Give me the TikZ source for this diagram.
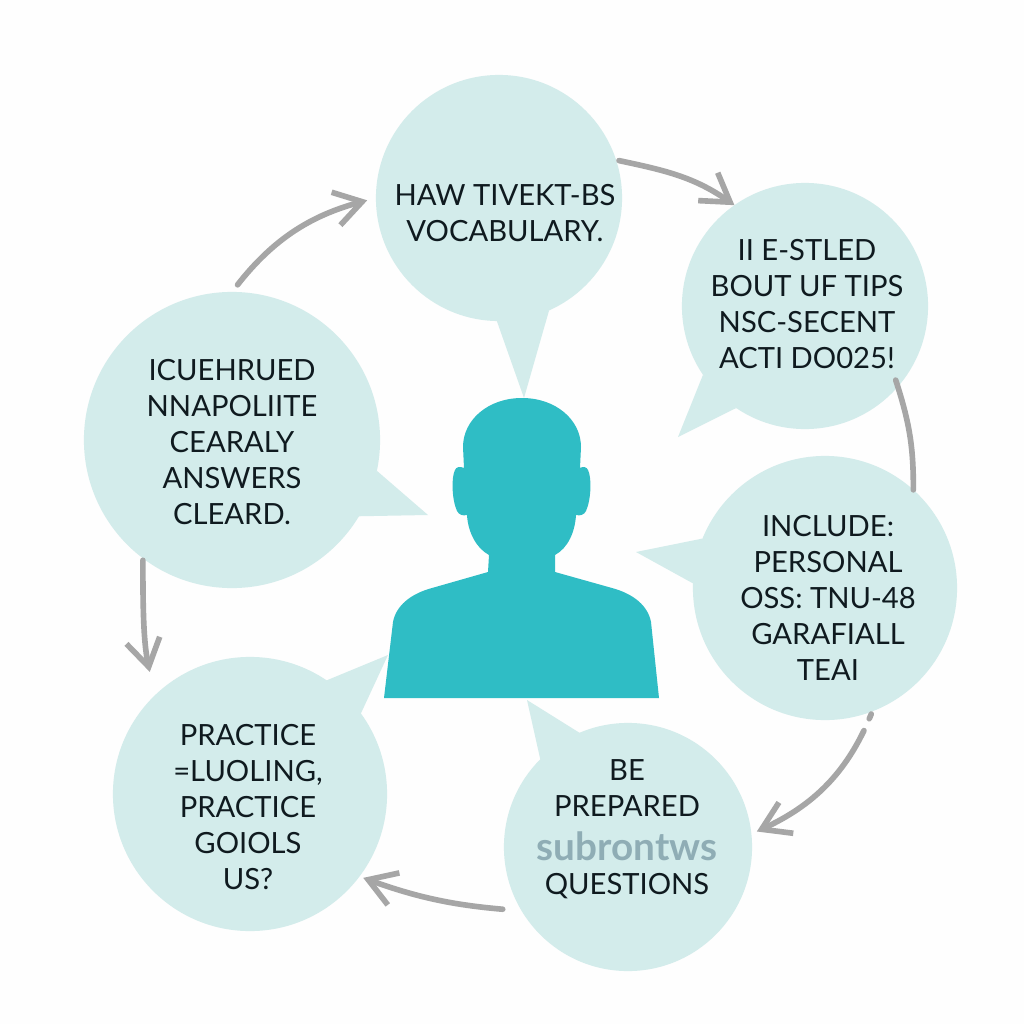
\documentclass[tikz,border=0pt]{standalone}
\usepackage{fontspec}
\setmainfont{Lato}
\usetikzlibrary{arrows.meta}

\begin{document}
\begin{tikzpicture}[x=0.01cm,y=-0.01cm,
  bubble/.style={circle, fill=colBubble, inner sep=0pt, outer sep=0pt},
  bubbleText/.style={align=center, text=colText, inner sep=0pt,
    font=\fontsize{8.3}{10.25}\selectfont},
  loopLine/.style={draw=colLoop, line width=1.6pt, line cap=round, line join=round},
  loopArrow/.style={loopLine, -{Straight Barb[length=2.7mm,width=3.4mm,line width=1.6pt]}}]

% Colours
\definecolor{colBubble}{HTML}{D3ECEB}
\definecolor{colPerson}{HTML}{2FBDC5}
\definecolor{colLoop}{HTML}{A6A6A6}
\definecolor{colText}{HTML}{0F1A1F}
\definecolor{colSmudge}{HTML}{8FADB5}
\definecolor{colPage}{HTML}{FEFEFE}

% Page
\path[fill=colPage, use as bounding box] (0,0) rectangle (1024,1024);

% Bubbles
\node[bubble, minimum size=2.46cm] (vocab) at (499,198) {};
\node[bubble, minimum size=2.46cm] (tips) at (805,306) {};
\node[bubble, minimum size=2.64cm] (personal) at (825,588) {};
\node[bubble, minimum size=2.48cm] (prepared) at (628,847) {};
\node[bubble, minimum size=2.74cm] (fluency) at (250,794) {};
\node[bubble, minimum size=2.96cm] (polite) at (232,440) {};

% Tails
\fill[colBubble] (vocab.-91) -- (524,398) -- (vocab.-66) -- cycle;
\fill[colBubble] (tips.214) -- (678,437) -- (tips.236) -- cycle;
\fill[colBubble] (personal.158) -- (636,552) -- (personal.178) -- cycle;
\fill[colBubble] (prepared.113) -- (527,700) -- (prepared.135) -- cycle;
\fill[colBubble] (fluency.56) -- (388,655) -- (fluency.36) -- cycle;
\fill[colBubble] (polite.-12) -- (428,515) -- (polite.-31) -- cycle;

% Person
\fill[colPerson] (522,398) .. controls (488,398) and (463,420) .. (463,447)
  -- (464,468) .. controls (460,466) and (456,467) .. (455,470)
  .. controls (451,478) and (452,500) .. (457,511)
  .. controls (459,515) and (463,516) .. (467,515)
  .. controls (468,532) and (476,548) .. (489,555)
  -- (488,572) -- (432,588)
  .. controls (410,594) and (396,606) .. (393,622)
  -- (384,698) -- (659,698) -- (651,622)
  .. controls (648,606) and (634,594) .. (612,588)
  -- (555,572) -- (555,555)
  .. controls (568,548) and (575,532) .. (576,515)
  .. controls (580,516) and (584,515) .. (586,511)
  .. controls (591,500) and (592,478) .. (588,470)
  .. controls (587,467) and (583,466) .. (580,468)
  -- (581,447) .. controls (581,420) and (556,398) .. (522,398) -- cycle;

% Loop
\draw[loopArrow, shorten <=0.9mm, shorten >=0.9mm] (polite.90) to[out=52,in=195] (vocab.180);
\draw[loopArrow, shorten <=0.3mm] (vocab.18) to[out=-12,in=145] (tips.125);
\draw[loopLine, shorten <=-0.7mm] (tips.-41) to[out=-72,in=90] (personal.48);
\draw[loopArrow, shorten <=0.3mm, shorten >=0.6mm, dash pattern=on 0.5mm off 1.3mm on 40cm] (personal.-69) to[out=-112,in=25] (prepared.6);
\draw[loopArrow, shorten <=1.9mm, shorten >=0.4mm] (prepared.211) to[out=175,in=-20] (fluency.-37);
\draw[loopArrow, shorten <=0.2mm, shorten >=2.4mm] (polite.233) to[out=-90,in=102] (fluency.134);

% Texts
\node[bubbleText] (vocabText) at (505,213) {HAW TIVEKT-BS\\VOCABULARY.};
\node[bubbleText] (tipsText) at (807,304) {II E-STLED\\BOUT UF TIPS\\NSC-SECENT\\ACTI DO025!};
\node[bubbleText] (personalText) at (828,598) {INCLUDE:\\PERSONAL\\OSS: TNU-48\\GARAFIALL\\TEAI};
\node[bubbleText] (preparedText) at (627,829) {BE\\PREPARED\\[0.8mm]{\fontsize{11}{10.25}\selectfont\color{colSmudge}\bfseries subrontws}\\[-0.2mm]QUESTIONS};
\node[bubbleText] (fluencyText) at (248,807) {PRACTICE\\=LUOLING,\\PRACTICE\\GOIOLS\\US?};
\node[bubbleText] (politeText) at (232,442) {ICUEHRUED\\NNAPOLIITE\\CEARALY\\ANSWERS\\CLEARD.};
\end{tikzpicture}
\end{document}
